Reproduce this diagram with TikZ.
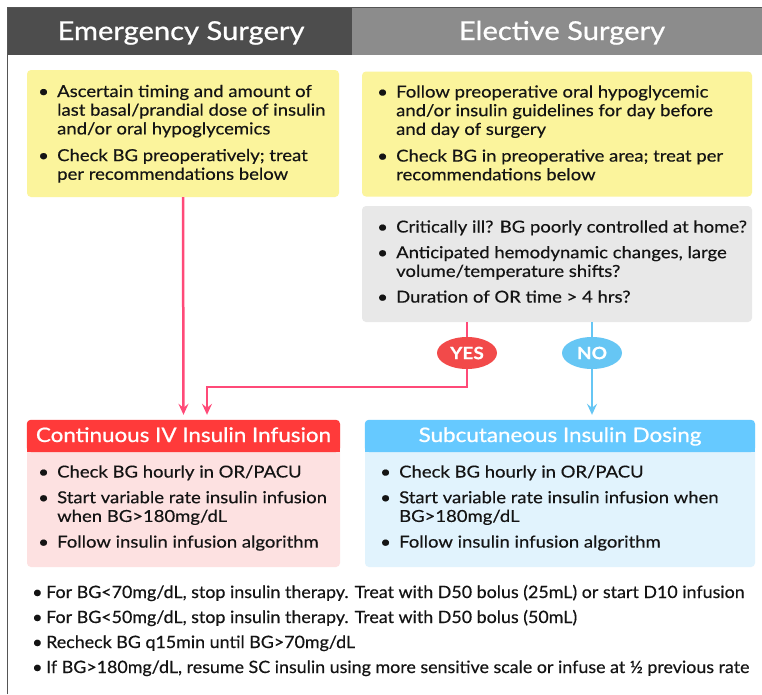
\documentclass[tikz,border=0pt]{standalone}
\usepackage{fontspec}
\setmainfont{Lato}[FakeStretch=1.12, FakeBold=0.4]
\newfontfamily\condfont[FakeStretch=1.05, FakeBold=0.4]{Lato}
\newfontfamily\hdrfont[FakeStretch=1.12, FakeBold=0.8]{Lato}
\usetikzlibrary{shapes.geometric,arrows.meta}
\definecolor{hdark}{HTML}{4D4D4D}
\definecolor{hlight}{HTML}{8C8C8C}
\definecolor{ylw}{HTML}{FBF49C}
\definecolor{gry}{HTML}{E8E8E8}
\definecolor{pk}{HTML}{FF4A78}
\definecolor{yesred}{HTML}{F24A4A}
\definecolor{noblue}{HTML}{66C6F4}
\definecolor{redh}{HTML}{FF3A3A}
\definecolor{redb}{HTML}{FDE1E1}
\definecolor{blueh}{HTML}{66C9FF}
\definecolor{blueb}{HTML}{E1F3FD}
\definecolor{txt}{HTML}{141414}
\definecolor{frame}{HTML}{555555}
\newcommand{\bul}{\makebox[19pt][l]{\textbullet}}
\begin{document}
\begin{tikzpicture}[x=1pt,y=-1pt,
  box/.style={rounded corners=4pt, inner sep=0pt, draw=none},
  lst/.style={anchor=base west, inner sep=0pt, align=left, text=txt, font=\fontsize{16.5}{18.7}\selectfont},
  hdr/.style={anchor=base, text=white, inner sep=0pt, font=\hdrfont\fontsize{26}{30}\selectfont},
  ttl/.style={anchor=base, text=white, inner sep=0pt, font=\hdrfont\fontsize{20}{24}\selectfont},
  ans/.style={ellipse, minimum width=60pt, minimum height=32pt, inner sep=0pt, text=white, font=\bfseries\fontsize{17}{20}\selectfont},
  pkline/.style={draw=pk, line width=2.5pt},
  blline/.style={draw=noblue, line width=2.5pt},
  tip/.style={-{Stealth[length=11pt,width=10pt,inset=4pt]}, shorten >=5pt}]
\useasboundingbox (0,0) rectangle (762,694);
\fill[white] (0,0) rectangle (762,694);
% frame and headers
\fill[hdark] (7,7) rectangle (352,55);
\fill[hlight] (352,7) rectangle (762,55);
\draw[frame, line width=1pt] (7,694) -- (7,7) -- (762,7);
\node[hdr] (hE) at (181,40) {Emergency Surgery};
\node[hdr] (hL) at (562,40) {Elective Surgery};
% boxes
\node[box, fill=ylw, minimum width=312pt, minimum height=127pt] (ey) at (183,133.5) {};
\node[box, fill=ylw, minimum width=390pt, minimum height=125pt] (ly) at (557,134) {};
\node[box, fill=gry, minimum width=390pt, minimum height=116pt] (gray) at (557,264) {};
% text in yellow/gray boxes
\node[lst] (t1) at (38,97) {\begin{tabular}[t]{@{}l@{}l@{}}
\bul & Ascertain timing and amount of\\
 & last basal/prandial dose of insulin\\
 & and/or oral hypoglycemics\\[8pt]
\bul & Check BG preoperatively; treat\\
 & per recommendations below
\end{tabular}};
\node[lst] (t2) at (377,97.5) {\begin{tabular}[t]{@{}l@{}l@{}}
\bul & Follow preoperative oral hypoglycemic\\
 & and/or insulin guidelines for day before\\
 & and day of surgery\\[8pt]
\bul & Check BG in preoperative area; treat per\\
 & recommendations below
\end{tabular}};
\node[lst] (t3) at (377,232.5) {\begin{tabular}[t]{@{}l@{}l@{}}
\bul & Critically ill? BG poorly controlled at home?\\[7pt]
\bul & Anticipated hemodynamic changes, large\\
 & volume/temperature shifts?\\[7pt]
\bul & Duration of OR time > 4 hrs?
\end{tabular}};
% answers
\node[ans, fill=yesred] (yes) at (467,353) {YES};
\node[ans, fill=noblue] (no) at (592,353) {NO};
% bottom boxes
\node[box, fill=redb, minimum width=313pt, minimum height=147pt] (red) at (183.5,493.5) {};
\fill[redh, rounded corners=4pt] (red.north west) rectangle (340,452);
\fill[redh] (27,444) rectangle (340,452);
\node[ttl] (rt) at (183.5,442) {Continuous IV Insulin Infusion};
\node[box, fill=blueb, minimum width=390pt, minimum height=147pt] (blue) at (560,493.5) {};
\fill[blueh, rounded corners=4pt] (blue.north west) rectangle (755,452);
\fill[blueh] (365,444) rectangle (755,452);
\node[ttl] (bt) at (560,442) {Subcutaneous Insulin Dosing};
\node[lst] (t4) at (38,477.5) {\begin{tabular}[t]{@{}l@{}l@{}}
\bul & Check BG hourly in OR/PACU\\[7pt]
\bul & Start variable rate insulin infusion\\
 & when BG>180mg/dL\\[7pt]
\bul & Follow insulin infusion algorithm
\end{tabular}};
\node[lst] (t5) at (380,477.5) {\begin{tabular}[t]{@{}l@{}l@{}}
\bul & Check BG hourly in OR/PACU\\[7pt]
\bul & Start variable rate insulin infusion when\\
 & BG>180mg/dL\\[7pt]
\bul & Follow insulin infusion algorithm
\end{tabular}};
% connectors
\coordinate (j) at (207,387);
\draw[pkline, tip] (ey.south) -- (red.north);
\draw[pkline] (gray.south -| yes) -- (yes.north);
\draw[pkline, tip] (yes.south) |- (j) -- (j |- red.north);
\draw[blline] (gray.south -| no) -- (no.north);
\draw[blline, tip] (no.south) -- (no |- blue.north);
% bottom notes
\node[lst, font=\condfont\fontsize{17}{25}\selectfont] (t6) at (32,598) {\begin{tabular}[t]{@{}l@{}l@{}}
\makebox[14pt][l]{\textbullet} & For BG<70mg/dL, stop insulin therapy. Treat with D50 bolus (25mL) or start D10 infusion\\
\makebox[14pt][l]{\textbullet} & For BG<50mg/dL, stop insulin therapy. Treat with D50 bolus (50mL)\\
\makebox[14pt][l]{\textbullet} & Recheck BG q15min until BG>70mg/dL\\
\makebox[14pt][l]{\textbullet} & If BG>180mg/dL, resume SC insulin using more sensitive scale or infuse at ½ previous rate
\end{tabular}};
\end{tikzpicture}
\end{document}
